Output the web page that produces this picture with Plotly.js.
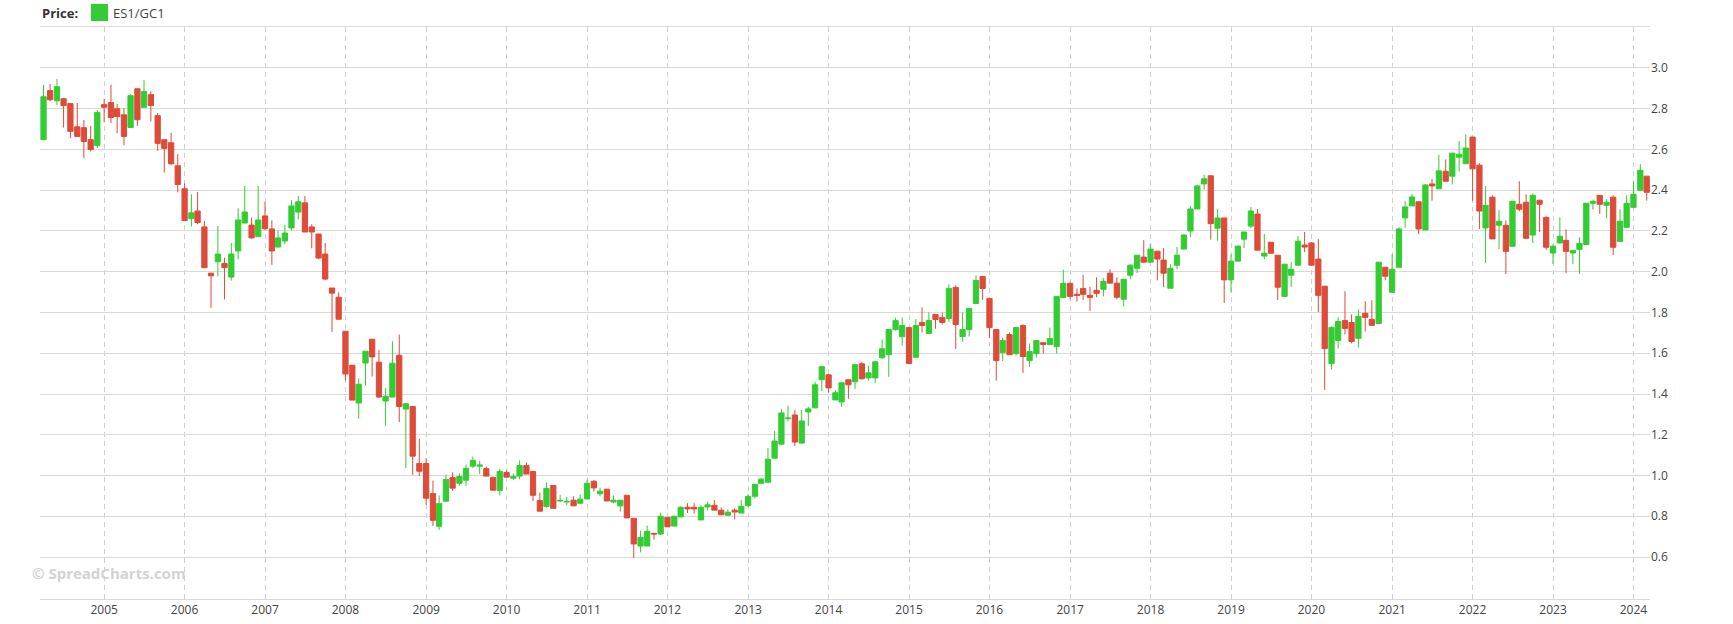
<!DOCTYPE html>
<html>
<head>
<meta charset="utf-8">
<script src="https://cdn.plot.ly/plotly-3.0.1.min.js"></script>
<style>
  html, body { margin: 0; padding: 0; background: #ffffff; }
  #chart { width: 1733px; height: 624px; }
</style>
</head>
<body>
<div id="chart"></div>
<script>
// ES1/GC1 monthly candles, April 2004 .. March 2024
const firstMonth = [2004, 4];
const monthCount = 240;

const openVals = [
  2.648,2.889,2.839,2.849,2.825,2.711,2.707,2.648,2.620,
  2.820,2.830,2.800,2.770,2.708,2.898,2.807,2.869,2.766,2.648,2.633,2.520,
  2.407,2.261,2.298,2.220,1.993,2.049,2.041,1.974,2.102,2.239,2.229,2.172,
  2.274,2.210,2.121,2.151,2.215,2.293,2.338,2.220,2.185,2.087,1.920,1.875,
  1.708,1.541,1.356,1.552,1.669,1.556,1.366,1.385,1.590,1.326,1.339,1.059,
  1.059,0.911,0.751,0.874,0.990,0.962,0.977,1.046,1.046,1.034,0.990,0.926,
  1.015,0.987,0.997,1.049,1.020,0.877,0.848,0.951,0.875,0.870,0.879,0.864,
  0.885,0.972,0.910,0.933,0.870,0.851,0.903,0.790,0.654,0.654,0.716,0.713,
  0.795,0.752,0.797,0.844,0.844,0.782,0.846,0.854,0.830,0.805,0.830,0.816,
  0.852,0.898,0.962,0.967,1.085,1.154,1.279,1.297,1.159,1.312,1.332,1.470,
  1.494,1.371,1.361,1.470,1.460,1.548,1.479,1.479,1.578,1.593,1.716,1.681,
  1.726,1.580,1.751,1.697,1.790,1.775,1.770,1.923,1.682,1.716,1.844,1.977,
  1.869,1.716,1.603,1.692,1.598,1.736,1.564,1.598,1.652,1.643,1.633,1.874,
  1.943,1.889,1.918,1.884,1.909,1.914,1.993,1.944,1.865,1.983,2.017,2.072,
  2.047,2.101,2.057,1.919,2.032,2.111,2.200,2.308,2.431,2.471,2.214,2.264,
  1.960,2.052,2.160,2.224,2.283,2.077,2.145,2.081,1.879,1.983,2.032,2.131,
  2.141,2.062,1.929,1.549,1.663,1.761,1.751,1.673,1.796,1.766,1.746,2.022,
  1.899,2.022,2.264,2.323,2.343,2.205,2.431,2.407,2.493,2.469,2.562,2.530,
  2.661,2.523,2.215,2.366,2.228,2.228,2.125,2.331,2.341,2.180,2.351,2.267,
  2.092,2.141,2.154,2.092,2.110,2.134,2.336,2.375,2.326,2.366,2.149,2.218,
  2.316,2.400,2.469
];

const highVals = [
  2.918,2.921,2.946,2.849,2.825,2.828,2.744,2.716,2.793,
  2.848,2.918,2.823,2.803,2.872,2.898,2.941,2.885,2.779,2.648,2.682,2.577,
  2.434,2.380,2.392,2.249,1.993,2.225,2.069,2.141,2.311,2.421,2.266,2.421,
  2.344,2.252,2.203,2.230,2.351,2.372,2.372,2.233,2.185,2.141,1.920,1.898,
  1.708,1.541,1.477,1.610,1.669,1.615,1.428,1.659,1.692,1.352,1.339,1.180,
  1.085,0.975,0.902,1.003,1.015,1.010,1.054,1.093,1.072,1.044,0.995,1.033,
  1.025,1.010,1.074,1.064,1.020,0.916,0.966,0.951,0.905,0.895,0.898,0.907,
  0.980,0.977,0.941,0.933,0.902,0.879,0.903,0.790,0.730,0.754,0.718,0.818,
  0.795,0.803,0.849,0.864,0.864,0.854,0.872,0.879,0.843,0.833,0.839,0.879,
  0.908,0.957,0.989,1.135,1.218,1.327,1.342,1.322,1.322,1.337,1.460,1.534,
  1.499,1.419,1.455,1.470,1.544,1.558,1.539,1.563,1.667,1.716,1.775,1.775,
  1.726,1.768,1.825,1.800,1.790,1.800,1.938,1.933,1.800,1.820,1.982,1.977,
  1.869,1.716,1.677,1.702,1.726,1.741,1.648,1.662,1.652,1.726,1.879,2.010,
  1.948,1.918,1.985,1.926,1.973,1.968,2.012,1.973,1.963,2.037,2.081,2.155,
  2.136,2.101,2.116,2.037,2.121,2.185,2.323,2.426,2.476,2.471,2.308,2.264,
  2.086,2.126,2.195,2.318,2.308,2.185,2.145,2.081,2.037,2.047,2.175,2.195,
  2.145,2.160,1.929,1.732,1.776,1.904,1.791,1.815,1.855,1.860,2.047,2.022,
  2.086,2.219,2.347,2.382,2.347,2.431,2.456,2.574,2.551,2.582,2.641,2.675,
  2.661,2.533,2.420,2.375,2.302,2.252,2.346,2.444,2.380,2.385,2.351,2.272,
  2.134,2.267,2.208,2.105,2.169,2.336,2.351,2.375,2.356,2.375,2.307,2.375,
  2.444,2.528,2.469
];

const lowVals = [
  2.648,2.836,2.818,2.708,2.656,2.664,2.557,2.590,2.607,
  2.733,2.730,2.680,2.621,2.708,2.715,2.807,2.738,2.593,2.487,2.523,2.390,
  2.251,2.223,2.233,2.020,1.823,1.977,1.864,1.957,2.061,2.239,2.162,2.172,
  2.205,2.034,2.121,2.134,2.203,2.257,2.195,2.115,2.062,1.959,1.705,1.767,
  1.466,1.370,1.279,1.441,1.485,1.380,1.245,1.385,1.262,1.036,1.003,0.998,
  0.856,0.752,0.733,0.874,0.926,0.951,0.949,1.036,1.007,0.997,0.928,0.903,
  0.992,0.979,0.982,1.007,0.875,0.825,0.843,0.839,0.871,0.855,0.851,0.861,
  0.885,0.921,0.898,0.875,0.864,0.823,0.792,0.595,0.623,0.654,0.685,0.708,
  0.748,0.752,0.797,0.816,0.813,0.782,0.828,0.830,0.805,0.805,0.784,0.816,
  0.845,0.888,0.956,0.967,1.085,1.149,1.266,1.145,1.159,1.243,1.332,1.415,
  1.406,1.371,1.337,1.376,1.425,1.470,1.465,1.455,1.573,1.484,1.711,1.637,
  1.550,1.580,1.702,1.697,1.720,1.741,1.754,1.621,1.657,1.682,1.844,1.862,
  1.675,1.466,1.562,1.593,1.589,1.503,1.533,1.579,1.598,1.643,1.598,1.869,
  1.864,1.854,1.862,1.808,1.875,1.879,1.944,1.865,1.830,1.963,1.993,2.047,
  2.047,1.958,1.924,1.919,2.012,2.111,2.170,2.308,2.402,2.157,2.152,1.847,
  1.899,2.052,2.116,2.214,2.106,2.062,2.086,1.861,1.879,1.924,2.032,2.096,
  2.032,1.802,1.420,1.520,1.623,1.692,1.648,1.628,1.707,1.737,1.746,1.958,
  1.899,2.022,2.216,2.323,2.185,2.205,2.349,2.407,2.444,2.428,2.492,2.530,
  2.348,2.210,2.043,2.161,2.111,1.989,2.125,2.297,2.164,2.141,2.195,2.108,
  2.038,2.141,1.993,2.038,1.989,2.134,2.305,2.284,2.264,2.082,2.149,2.218,
  2.316,2.400,2.349
];

const closeVals = [
  2.859,2.844,2.908,2.815,2.689,2.664,2.639,2.600,2.782,
  2.807,2.757,2.762,2.664,2.864,2.746,2.884,2.816,2.630,2.605,2.530,2.428,
  2.251,2.289,2.241,2.020,1.980,2.087,2.020,2.087,2.254,2.293,2.166,2.254,
  2.211,2.102,2.166,2.190,2.323,2.343,2.195,2.195,2.067,1.964,1.895,1.767,
  1.498,1.370,1.448,1.610,1.582,1.385,1.389,1.551,1.339,1.352,1.095,1.021,
  0.889,0.780,0.862,0.980,0.938,0.995,1.034,1.074,1.051,0.997,0.928,1.020,
  0.992,0.995,1.049,1.007,0.903,0.825,0.936,0.839,0.878,0.873,0.851,0.884,
  0.962,0.939,0.923,0.875,0.879,0.879,0.792,0.664,0.697,0.726,0.713,0.800,
  0.748,0.800,0.844,0.836,0.836,0.844,0.856,0.830,0.807,0.820,0.821,0.849,
  0.898,0.957,0.982,1.080,1.169,1.307,1.282,1.164,1.268,1.327,1.445,1.534,
  1.430,1.406,1.455,1.445,1.544,1.475,1.504,1.558,1.622,1.716,1.760,1.736,
  1.550,1.736,1.736,1.761,1.766,1.751,1.918,1.741,1.716,1.820,1.957,1.918,
  1.726,1.564,1.662,1.593,1.726,1.584,1.608,1.662,1.643,1.672,1.879,1.943,
  1.879,1.884,1.889,1.874,1.894,1.953,1.944,1.875,1.963,2.032,2.081,2.047,
  2.111,2.062,1.993,2.017,2.081,2.180,2.308,2.421,2.456,2.236,2.264,1.960,
  2.052,2.126,2.195,2.298,2.106,2.091,2.091,1.924,2.037,2.012,2.150,2.121,
  2.032,1.884,1.623,1.727,1.756,1.722,1.658,1.781,1.776,1.737,2.047,1.978,
  2.012,2.210,2.318,2.367,2.210,2.426,2.421,2.495,2.444,2.582,2.577,2.607,
  2.505,2.298,2.326,2.161,2.248,2.100,2.346,2.307,2.164,2.375,2.331,2.120,
  2.125,2.174,2.100,2.105,2.139,2.336,2.346,2.331,2.341,2.120,2.248,2.336,
  2.380,2.498,2.390
];

const yTickVals = [0.6, 0.8, 1.0, 1.2, 1.4, 1.6, 1.8, 2.0, 2.2, 2.4, 2.6, 2.8, 3.0];
const seriesName = 'ES1/GC1';

// month-start dates for each candle
const dates = [];
for (let i = 0; i < monthCount; i++) {
  const m0 = firstMonth[1] - 1 + i;
  const y = firstMonth[0] + Math.floor(m0 / 12);
  const m = (m0 % 12) + 1;
  dates.push(y + '-' + String(m).padStart(2, '0') + '-01');
}

const GREEN = '#33cc33';
const RED = '#dd4b39';

const trace = {
  type: 'candlestick',
  name: seriesName,
  x: dates,
  open: openVals,
  high: highVals,
  low: lowVals,
  close: closeVals,
  increasing: { line: { color: GREEN, width: 1 }, fillcolor: GREEN },
  decreasing: { line: { color: RED, width: 1 }, fillcolor: RED },
  whiskerwidth: 0,
  hoverinfo: 'skip'
};

// plot area in pixels: left 40, right 1650, top 27, bottom 599
const W = 1733, H = 624, ML = 40, MR = 83, MT = 27, MB = 25;
const PW = W - ML - MR, PH = H - MT - MB;
const px = x => (x - ML) / PW;
const py = y => (H - MB - y) / PH;

const layout = {
  width: W,
  height: H,
  margin: { l: ML, r: MR, t: MT, b: MB, pad: 0 },
  paper_bgcolor: '#ffffff',
  plot_bgcolor: '#ffffff',
  showlegend: false,
  hovermode: false,
  dragmode: false,
  boxgap: 0.15,
  boxgroupgap: 0,
  font: { family: '"Open Sans", "DejaVu Sans", sans-serif', size: 12, color: '#444444' },
  xaxis: {
    type: 'date',
    range: ['2004-03-16', '2024-03-16'],
    rangeslider: { visible: false },
    tick0: '2005-01-01',
    dtick: 'M12',
    tickformat: '%Y',
    showgrid: true,
    gridcolor: '#d0d0d0',
    griddash: '5px,4px',
    gridwidth: 1,
    showline: true,
    mirror: true,
    linecolor: '#d9d9d9',
    linewidth: 1,
    ticks: '',
    zeroline: false,
    fixedrange: true,
    tickfont: { size: 12, color: '#444444' }
  },
  yaxis: {
    side: 'right',
    range: [0.394, 3.201],
    tickmode: 'array',
    tickvals: yTickVals,
    tickformat: '.1f',
    showgrid: true,
    gridcolor: '#d9d9d9',
    gridwidth: 1,
    zeroline: false,
    showline: false,
    ticks: '',
    fixedrange: true,
    tickfont: { size: 12, color: '#444444' }
  },
  shapes: [
    {
      type: 'rect', xref: 'paper', yref: 'paper',
      x0: px(91), x1: px(108), y0: py(21), y1: py(4),
      fillcolor: GREEN, line: { width: 0 }
    }
  ],
  annotations: [
    {
      xref: 'paper', yref: 'paper', x: px(40), y: py(13), xanchor: 'left', yanchor: 'middle',
      text: '<b>Price:</b>', showarrow: false,
      font: { size: 13, color: '#333333' }
    },
    {
      xref: 'paper', yref: 'paper', x: px(111), y: py(13), xanchor: 'left', yanchor: 'middle',
      text: seriesName, showarrow: false,
      font: { size: 13, color: '#444444' }
    },
    {
      xref: 'paper', yref: 'paper', x: px(30), y: py(573), xanchor: 'left', yanchor: 'middle',
      text: '<b>© SpreadCharts.com</b>', showarrow: false,
      font: { size: 15, color: '#d2d2d2' }
    }
  ]
};

Plotly.newPlot('chart', [trace], layout, { displayModeBar: false, staticPlot: true });
</script>
</body>
</html>
